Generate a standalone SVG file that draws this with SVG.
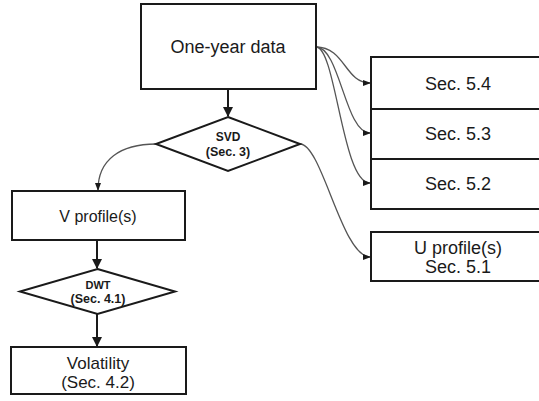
<svg xmlns="http://www.w3.org/2000/svg" width="539" height="401" viewBox="0 0 539 401">
<style>
.box{fill:#fff;stroke:#1a1a1a;stroke-width:2}
.t{font-family:"Liberation Sans",Arial,sans-serif;fill:#1a1a1a;text-anchor:middle}
.b{font-weight:bold}
.curve{fill:none;stroke:#555;stroke-width:1.3}
.straight{fill:none;stroke:#1a1a1a;stroke-width:2}
</style>
<defs>
<marker id="sm" markerWidth="8" markerHeight="6" refX="7" refY="3" orient="auto" markerUnits="userSpaceOnUse">
<path d="M0,0 L8,3 L0,6 z" fill="#1a1a1a"/>
</marker>
<marker id="big" markerWidth="10" markerHeight="10" refX="9" refY="5" orient="auto" markerUnits="userSpaceOnUse">
<path d="M0,0 L10,5 L0,10 z" fill="#1a1a1a"/>
</marker>
</defs>
<rect width="539" height="401" fill="#fff"/>
<g id="connectors">
<path class="straight" d="M228,89 L228,116" marker-end="url(#big)"/>
<path class="straight" d="M97,240 L97,268" marker-end="url(#big)"/>
<path class="straight" d="M97,314 L97,346" marker-end="url(#big)"/>
<path class="curve" d="M316,47 C345,47 345,83 370,83" marker-end="url(#sm)"/>
<path class="curve" d="M316,47 C340,47 345,133 370,133" marker-end="url(#sm)"/>
<path class="curve" d="M316,47 C336,47 342,183 370,183" marker-end="url(#sm)"/>
<path class="curve" d="M300,144 C322,144 342,257 370,257" marker-end="url(#sm)"/>
<path class="curve" d="M156,144 C120,144 98,160 98,190" marker-end="url(#sm)"/>
</g>
<g id="one-year">
<rect class="box" x="141" y="4" width="175" height="85"/>
<text class="t" x="228" y="53" font-size="18">One-year data</text>
</g>
<g id="svd">
<polygon class="box" points="228,117 300,144 228,171 156,144"/>
<text class="t b" x="228" y="141" font-size="12">SVD</text>
<text class="t b" x="228" y="156" font-size="12.5">(Sec. 3)</text>
</g>
<g id="sec54">
<rect class="box" x="371" y="57" width="175" height="52"/>
<text class="t" x="458" y="90" font-size="18">Sec. 5.4</text>
</g>
<g id="sec53">
<rect class="box" x="371" y="109" width="175" height="50"/>
<text class="t" x="458" y="140" font-size="18">Sec. 5.3</text>
</g>
<g id="sec52">
<rect class="box" x="371" y="159" width="175" height="50"/>
<text class="t" x="458" y="190" font-size="18">Sec. 5.2</text>
</g>
<g id="uprofile">
<rect class="box" x="371" y="232" width="175" height="49"/>
<text class="t" x="458" y="254" font-size="18">U profile(s)</text>
<text class="t" x="458" y="273" font-size="18">Sec. 5.1</text>
</g>
<g id="vprofile">
<rect class="box" x="12" y="191" width="173" height="49"/>
<text class="t" x="98" y="222" font-size="16">V profile(s)</text>
</g>
<g id="dwt">
<polygon class="box" points="97.5,269 175,291.5 97.5,314 20,291.5"/>
<text class="t b" x="98" y="289" font-size="11">DWT</text>
<text class="t b" x="98" y="303" font-size="12.5">(Sec. 4.1)</text>
</g>
<g id="volatility">
<rect class="box" x="11" y="347" width="175" height="47"/>
<text class="t" x="98" y="369" font-size="17">Volatility</text>
<text class="t" x="98" y="388" font-size="17">(Sec. 4.2)</text>
</g>
</svg>
